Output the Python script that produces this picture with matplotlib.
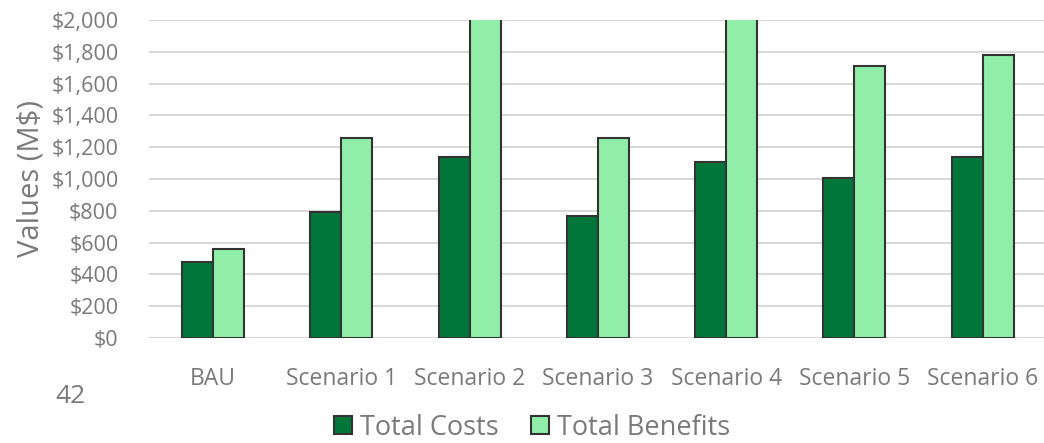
# ---------- Total Costs vs Total Benefits by Scenario ----------

import numpy as np
import matplotlib.pyplot as plt

# ----- Data (M$) -----

categories = ['BAU', 'Scenario 1', 'Scenario 2', 'Scenario 3',
              'Scenario 4', 'Scenario 5', 'Scenario 6']
total_costs = [480, 795, 1140, 765, 1105, 1005, 1140]
total_benefits = [560, 1260, 2300, 1260, 2300, 1710, 1780]
y_ticks = [0, 200, 400, 600, 800, 1000, 1200, 1400, 1600, 1800, 2000]

# ----- Style -----

plt.rcParams['font.family'] = ['Open Sans', 'DejaVu Sans']
text_gray = '#7a7a7a'
dark_green = '#00763A'
light_green = '#90EEA9'
edge = '#333333'

fig = plt.figure(figsize=(10.44, 4.43), dpi=100)
ax = fig.add_axes([0.1427, 0.237, 0.86, 0.718])

x = np.arange(len(categories))
w = 0.242

# -- Bars --
ax.bar(x - w / 2, total_costs, w, color=dark_green, edgecolor=edge,
       linewidth=1.5, label='Total Costs', zorder=3)
ax.bar(x + w / 2, total_benefits, w, color=light_green, edgecolor=edge,
       linewidth=1.5, label='Total Benefits', zorder=3)

# -- Axes --
ax.set_xlim(-0.5, len(categories) - 0.5)
ax.set_ylim(0, 2000)
ax.set_yticks(y_ticks)
ax.set_yticklabels([f'${v:,}' for v in y_ticks])
ax.set_xticks(x)
ax.set_xticklabels(categories)
ax.tick_params(axis='y', length=0, pad=22, labelsize=15.5, labelcolor=text_gray)
ax.tick_params(axis='x', length=0, pad=21, labelsize=16.5, labelcolor=text_gray)
ax.grid(axis='y', color='#d9d9d9', linewidth=1.5, zorder=0)
for s in ax.spines.values():
    s.set_visible(False)

ax.set_ylabel('Values (M$)', fontsize=21, color=text_gray, labelpad=4)

# -- Page number and legend --
fig.text(0.0527, 0.104, '42', fontsize=19, color=text_gray, ha='left', va='center')

fig.legend(loc='center', bbox_to_anchor=(0.51, 0.034), ncol=2, frameon=False,
           fontsize=19.5, labelcolor=text_gray, handlelength=0.65,
           handleheight=0.65, handletextpad=0.3, columnspacing=1.2,
           borderaxespad=0)

plt.savefig('out.png', dpi=100, facecolor='white')
